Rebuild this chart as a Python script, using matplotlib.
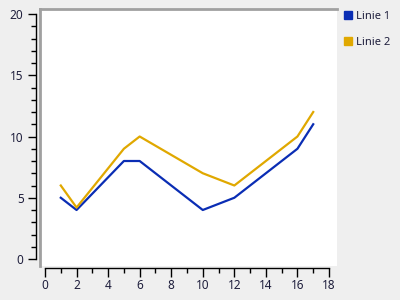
import matplotlib.pyplot as plt
from matplotlib.lines import Line2D
from matplotlib.ticker import MultipleLocator

# data
x_vals = [1, 2, 5, 6, 10, 12, 16, 17]
linie1 = [5, 4, 8, 8, 4, 5, 9, 11]
linie2 = [6, 4.2, 9, 10, 7, 6, 10, 12]
series_names = ['Linie 1', 'Linie 2']
series_colors = ['#0a2db4', '#e0a800']

W, H = 400, 300
bg = '#efefef'
label_color = '#1e1e3c'

plt.rcParams['font.family'] = ['Noto Sans', 'DejaVu Sans']

fig = plt.figure(figsize=(4, 3), dpi=100)
fig.patch.set_facecolor(bg)


def fig_rect(left, top, right, bottom):
    return [left / W, (H - bottom) / H, (right - left) / W, (bottom - top) / H]


# plot area (white, gray border top/left)
ax = fig.add_axes(fig_rect(40, 9, 337, 266))
ax.set_facecolor('white')
px_per_x = (329 - 45) / 18
px_per_y = (259 - 14) / 20
ax.set_xlim(-5 / px_per_x, (337 - 45) / px_per_x)
ax.set_ylim(-7 / px_per_y, (259 - 9) / px_per_y)
for side in ['right', 'bottom']:
    ax.spines[side].set_visible(False)
for side in ['left', 'top']:
    ax.spines[side].set_color('#a0a0a0')
    ax.spines[side].set_linewidth(2.0)
ax.set_xticks([])
ax.set_yticks([])

ax.plot(x_vals, linie1, color=series_colors[0], linewidth=1.6)
ax.plot(x_vals, linie2, color=series_colors[1], linewidth=1.6)

# separate y axis
yax = fig.add_axes(fig_rect(36, 14, 37, 259))
yax.patch.set_visible(False)
yax.set_ylim(0, 20)
yax.set_xticks([])
for side in ['right', 'top', 'bottom']:
    yax.spines[side].set_visible(False)
yax.spines['left'].set_linewidth(1.0)
yax.yaxis.set_major_locator(MultipleLocator(5))
yax.yaxis.set_minor_locator(MultipleLocator(1))
yax.tick_params(axis='y', which='major', length=6, width=1, labelsize=8.5,
                labelcolor=label_color, pad=3)
yax.tick_params(axis='y', which='minor', length=3.5, width=1)

# separate x axis
xax = fig.add_axes(fig_rect(45, 267, 329, 268))
xax.patch.set_visible(False)
xax.set_xlim(0, 18)
xax.set_yticks([])
for side in ['left', 'right', 'top']:
    xax.spines[side].set_visible(False)
xax.spines['bottom'].set_linewidth(1.0)
xax.xaxis.set_major_locator(MultipleLocator(2))
xax.xaxis.set_minor_locator(MultipleLocator(1))
xax.tick_params(axis='x', which='major', length=6.5, width=1, labelsize=8.5,
                labelcolor=label_color, pad=1.5)
xax.tick_params(axis='x', which='minor', length=3.5, width=1)

# legend
handles = [Line2D([], [], linestyle='none', marker='s', markersize=6,
                  markerfacecolor=c, markeredgecolor=c) for c in series_colors]
fig.legend(handles, series_names, loc='upper left',
           bbox_to_anchor=(332 / W, 1 - 1 / H), frameon=False,
           fontsize=8, labelspacing=1.35, handlelength=1.0,
           handletextpad=0.3, labelcolor=label_color)

fig.savefig('out.png', dpi=100, facecolor=bg)
